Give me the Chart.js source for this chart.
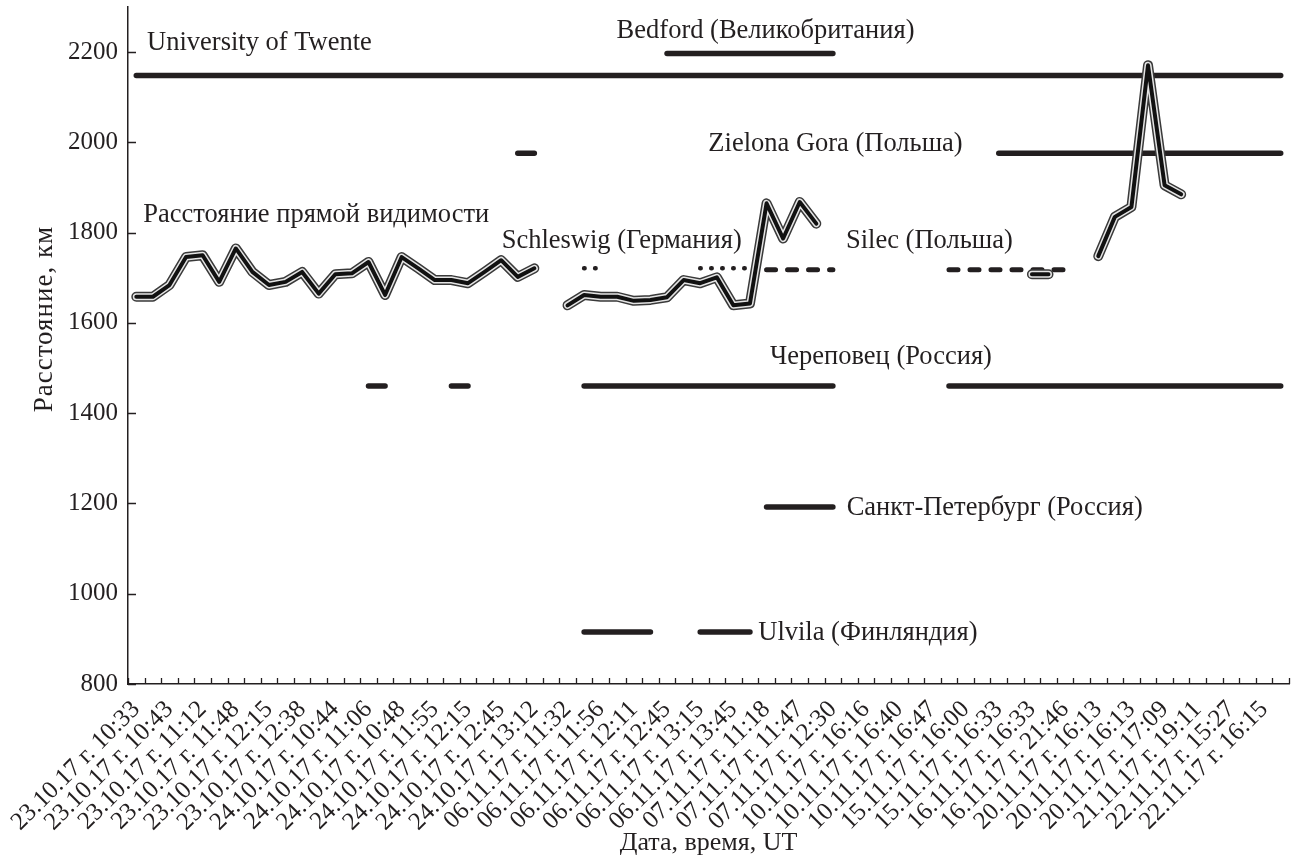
<!DOCTYPE html>
<html><head><meta charset="utf-8">
<script src="https://cdn.jsdelivr.net/npm/chart.js@4.4.1/dist/chart.umd.min.js"></script>
<style>html,body{margin:0;padding:0;background:#fff}</style>
</head><body>
<canvas id="c" width="1297" height="859"></canvas>
<script>
// ---- tick labels (every second category position) ----
const tickLabels = [
  '23.10.17 г. 10:33','23.10.17 г. 10:43','23.10.17 г. 11:12','23.10.17 г. 11:48','23.10.17 г. 12:15',
  '23.10.17 г. 12:38','24.10.17 г. 10:44','24.10.17 г. 11:06','24.10.17 г. 10:48','24.10.17 г. 11:55',
  '24.10.17 г. 12:15','24.10.17 г. 12:45','24.10.17 г. 13:12','06.11.17 г. 11:32','06.11.17 г. 11:56',
  '06.11.17 г. 12:11','06.11.17 г. 12:45','06.11.17 г. 13:15','06.11.17 г. 13:45','07.11.17 г. 11:18',
  '07.11.17 г. 11:47','07.11.17 г. 12:30','10.11.17 г. 16:16','10.11.17 г. 16:40','10.11.17 г. 16:47',
  '15.11.17 г. 16:00','15.11.17 г. 16:33','16.11.17 г. 16:33','16.11.17 г. 21:46','20.11.17 г. 16:13',
  '20.11.17 г. 16:13','20.11.17 г. 17:09','21.11.17 г. 19:11','22.11.17 г. 15:27','22.11.17 г. 16:15'
];
const categoryCount = 70;
const yTicks = [800, 1000, 1200, 1400, 1600, 1800, 2000, 2200];
const xTitle = 'Дата, время, UT';
const yTitle = 'Расстояние, км';

// ---- line-of-sight distance (segments: start index + values) ----
const los1Start = 0;
const los1 = [1658,1658,1684,1746,1750,1691,1765,1713,1684,1691,1713,1665,1708,1710,1735,1662,1746,1721,1695,1695,1688,1713,1739,1702,1721];
const los2Start = 26;
const los2 = [1639,1662,1658,1658,1649,1651,1657,1695,1688,1701,1639,1643,1865,1787,1868,1820];
const los3Start = 54;
const los3 = [1708,1708];
const los4Start = 58;
const los4 = [1748,1835,1857,2171,1905,1885];

// ---- receiving stations: distance and observed index spans ----
const twenteDist = 2148;      const twenteSpans = [[0,69]];
const bedfordDist = 2197;     const bedfordSpans = [[32,42]];
const zielonaDist = 1976;     const zielonaSpans = [[23,24],[52,69]];
const schleswigDist = 1721;   const schleswigSpans = [[27,28],[34,37]];
const silecDist = 1718;       const silecSpans = [[38,42],[49,56]];
const cherepovetsDist = 1460; const cherepovetsSpans = [[14,15],[19,20],[27,42],[49,69]];
const spbDist = 1192;         const spbSpans = [[38,42]];
const ulvilaDist = 915;       const ulvilaSpans = [[27,31],[34,37]];

function spansToData(spans, v) {
  const out = [];
  spans.forEach(([a, b], i) => {
    if (i) out.push({x: (out[out.length - 1].x + a) / 2, y: null});
    out.push({x: a, y: v}, {x: b, y: v});
  });
  return out;
}
function segsToData(segs) {
  const out = [];
  segs.forEach(([start, vals], i) => {
    if (i) out.push({x: start - 0.5, y: null});
    vals.forEach((v, j) => out.push({x: start + j, y: v}));
  });
  return out;
}
const losData = segsToData([[los1Start, los1], [los2Start, los2], [los3Start, los3], [los4Start, los4]]);

const INK = '#231f20';
const FONT = '"Liberation Serif", "Times New Roman", serif';

function station(label, spans, dist, extra) {
  return Object.assign({
    label, data: spansToData(spans, dist), borderColor: INK, borderWidth: 5.5,
    borderCapStyle: 'round', pointRadius: 0, spanGaps: false, order: 10, clip: false
  }, extra || {});
}

const notes = [
  {text: 'University of Twente', x: 0.65, y: 2204},
  {text: 'Bedford (Великобритания)', x: 28.96, y: 2232},
  {text: 'Zielona Gora (Польша)', x: 34.49, y: 1981},
  {text: 'Расстояние прямой видимости', x: 0.42, y: 1824},
  {text: 'Schleswig (Германия)', x: 22.03, y: 1765},
  {text: 'Silec (Польша)', x: 42.79, y: 1765},
  {text: 'Череповец (Россия)', x: 38.21, y: 1510},
  {text: 'Санкт-Петербург (Россия)', x: 42.83, y: 1174},
  {text: 'Ulvila (Финляндия)', x: 37.5, y: 897}
];

const decorPlugin = {
  id: 'decor',
  afterDatasetsDraw(chart) {
    const {ctx, chartArea, scales: {x, y}} = chart;
    ctx.save();
    ctx.strokeStyle = INK; ctx.lineWidth = 1.3;
    ctx.beginPath();
    for (let k = -0.5; k <= categoryCount - 0.5; k++) {
      const px = Math.round(x.getPixelForValue(k)) + 0.5;
      ctx.moveTo(px, chartArea.bottom); ctx.lineTo(px, chartArea.bottom - 6);
    }
    yTicks.forEach(v => {
      const py = Math.round(y.getPixelForValue(v)) + 0.5;
      ctx.moveTo(chartArea.left, py); ctx.lineTo(chartArea.left + 8, py);
    });
    ctx.stroke();
    ctx.fillStyle = INK;
    ctx.font = '26.5px ' + FONT;
    ctx.textAlign = 'left'; ctx.textBaseline = 'alphabetic';
    notes.forEach(n => ctx.fillText(n.text, x.getPixelForValue(n.x), y.getPixelForValue(n.y)));
    // y-axis title
    try { ctx.letterSpacing = '1px'; } catch (e) {}
    ctx.font = '27px ' + FONT;
    ctx.textAlign = 'center'; ctx.textBaseline = 'middle';
    ctx.translate(chartArea.left - 83, chartArea.top + (chartArea.bottom - chartArea.top) * 0.461);
    ctx.rotate(-Math.PI / 2);
    ctx.fillText(yTitle, 0, 0);
    ctx.restore();
  }
};

const losCommon = {data: losData, pointRadius: 0, spanGaps: false, tension: 0,
  borderJoinStyle: 'round', borderCapStyle: 'round', clip: false};

new Chart(document.getElementById('c'), {
  type: 'line',
  data: {
    datasets: [
      Object.assign({label: 'Расстояние прямой видимости', borderColor: '#111', borderWidth: 4, order: 1}, losCommon),
      Object.assign({label: '_mid', borderColor: '#e4e4e4', borderWidth: 7, order: 2}, losCommon),
      Object.assign({label: '_outer', borderColor: '#3a3a3a', borderWidth: 10, order: 3}, losCommon),
      station('University of Twente', twenteSpans, twenteDist),
      station('Bedford (Великобритания)', bedfordSpans, bedfordDist),
      station('Zielona Gora (Польша)', zielonaSpans, zielonaDist),
      station('Schleswig (Германия)', schleswigSpans, schleswigDist, {borderDash: [0.5, 10.5], borderWidth: 4.5}),
      station('Silec (Польша)', silecSpans, silecDist, {borderDash: [9, 12], borderWidth: 5}),
      station('Череповец (Россия)', cherepovetsSpans, cherepovetsDist),
      station('Санкт-Петербург (Россия)', spbSpans, spbDist),
      station('Ulvila (Финляндия)', ulvilaSpans, ulvilaDist)
    ]
  },
  options: {
    responsive: false,
    animation: false,
    devicePixelRatio: 1,
    layout: {padding: {top: 7, right: 8, left: 0, bottom: 0}},
    plugins: {legend: {display: false}, tooltip: {enabled: false}},
    scales: {
      x: {
        type: 'linear', min: -0.5, max: categoryCount - 0.5,
        afterBuildTicks: s => { s.ticks = tickLabels.map((t, i) => ({value: 2 * i})); },
        afterFit: s => { s.height = 175; s.paddingLeft = 0; s.paddingRight = 0; },
        grid: {color: 'rgba(0,0,0,0)', drawOnChartArea: false, drawTicks: false},
        border: {display: true, color: INK, width: 1.5},
        ticks: {
          autoSkip: false, maxRotation: 45, minRotation: 45, padding: 11,
          color: INK, font: {family: FONT, size: 25},
          callback: (v, i) => tickLabels[i]
        },
        title: {display: true, text: xTitle, color: INK,
          font: {family: FONT, size: 26}, padding: {top: 0, bottom: 0}}
      },
      y: {
        type: 'linear', min: 800, max: 2300,
        afterBuildTicks: s => { s.ticks = yTicks.map(v => ({value: v})); },
        afterFit: s => { s.width = 128; s.paddingTop = 0; s.paddingBottom = 0; },
        grid: {color: 'rgba(0,0,0,0)', drawOnChartArea: false, drawTicks: false},
        border: {display: true, color: INK, width: 1.5},
        ticks: {color: INK, font: {family: FONT, size: 25}, padding: 10,
          callback: v => String(v)},
        title: {display: false, text: yTitle}
      }
    }
  },
  plugins: [decorPlugin]
});
</script>
</body></html>
